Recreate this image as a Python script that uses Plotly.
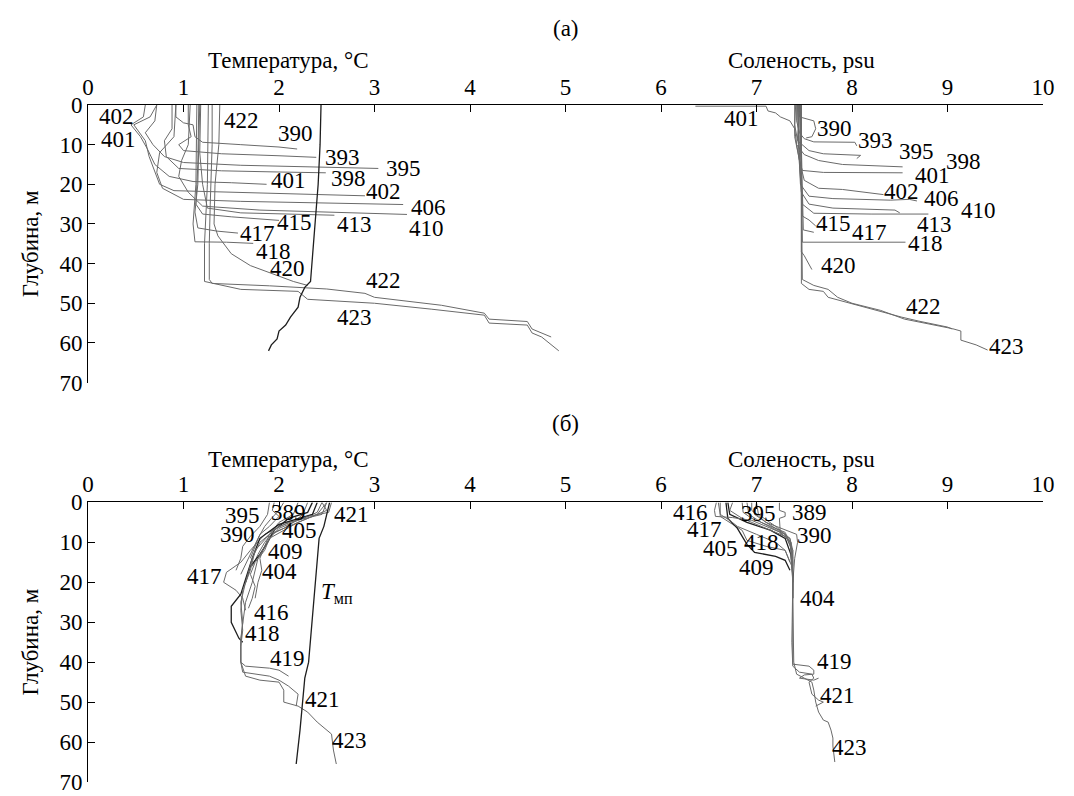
import plotly.graph_objects as go

# ---------------- Panel (а): temperature profiles (T, depth) ----------------
a_T_390 = [(0.92, 0), (0.92, 3), (1.0, 4.5), (1.1, 5), (1.12, 8), (1.2, 9.4), (1.6, 10), (2.0, 10.6), (2.19, 11.1)]
a_T_393 = [(1.05, 0), (1.05, 5), (1.08, 8), (0.95, 10), (1.0, 11.5), (1.4, 12.3), (2.0, 12.8), (2.39, 13.2)]
a_T_395 = [(0.72, 0), (0.7, 4), (0.6, 7), (0.68, 10), (0.8, 13), (1.0, 14.5), (1.6, 15.2), (2.4, 15.7), (3.04, 16)]
a_T_398 = [(0.88, 0), (0.88, 6), (0.8, 9), (0.82, 13), (0.95, 16), (1.4, 16.6), (2.0, 16.9), (2.49, 17.1)]
a_T_401 = [(0.6, 0), (0.58, 3), (0.45, 5), (0.55, 8), (0.62, 11), (0.7, 15), (0.85, 18), (1.1, 19.3), (1.5, 19.6), (1.87, 20)]
a_T_402 = [(0.72, 0), (0.65, 3), (0.48, 5), (0.6, 9), (0.64, 13), (0.7, 17), (0.75, 20), (0.9, 21.6), (1.5, 22), (2.2, 22.3), (2.9, 22.9)]
a_T_406 = [(0.92, 0), (0.9, 8), (0.75, 12), (0.72, 17), (0.78, 21), (1.0, 23.8), (1.6, 24.3), (2.5, 24.7), (3.3, 25.1)]
a_T_410 = [(1.07, 0), (1.05, 10), (0.98, 14), (0.95, 18), (1.05, 22), (1.2, 25.5), (1.8, 26.5), (2.6, 27.1), (3.34, 27.6)]
a_T_413 = [(1.18, 0), (1.17, 12), (1.2, 20), (1.25, 26), (1.6, 27.2), (2.2, 27.5), (2.58, 27.8)]
a_T_415 = [(1.16, 0), (1.15, 15), (1.13, 25), (1.2, 27.5), (1.5, 28.2), (2.0, 29.1)]
a_T_417 = [(1.17, 0), (1.15, 20), (1.12, 27), (1.15, 31), (1.35, 31.8), (1.57, 32.3)]
a_T_418 = [(1.14, 0), (1.13, 20), (1.1, 30), (1.12, 34.5), (1.45, 34.6), (1.73, 34.9)]
a_T_420 = [(1.38, 0), (1.37, 10), (1.33, 20), (1.32, 30), (1.36, 33), (1.5, 37.5), (1.7, 40.5), (1.95, 42.8), (2.15, 44.5), (2.3, 45.5)]
a_T_422 = [(1.3, 0), (1.3, 10), (1.28, 25), (1.27, 35), (1.27, 44), (1.3, 45), (1.9, 45.6), (2.5, 46.4), (2.9, 47.5), (3.0, 48.5), (3.7, 50.5), (4.15, 52.5), (4.2, 54), (4.6, 54.6), (4.65, 56.5), (4.85, 58.5)]
a_T_423 = [(1.26, 0), (1.25, 20), (1.22, 35), (1.22, 44.5), (1.6, 46.5), (2.2, 47), (2.3, 49), (3.0, 50), (3.6, 51.5), (4.15, 53), (4.2, 55), (4.6, 55.5), (4.65, 57.5), (4.75, 58.5), (4.93, 62)]
a_T_mp = [(2.44, 0), (2.43, 10), (2.41, 20), (2.38, 30), (2.35, 40), (2.33, 44.5), (2.27, 46), (2.22, 48.5), (2.2, 51), (2.12, 53.5), (2.07, 55.5), (2.0, 57), (1.98, 59), (1.92, 60.5), (1.89, 62)]

a_T_lab = ["402", "401", "422", "390", "393", "395", "401", "398", "402", "406", "410", "413", "415", "417", "418", "420", "422", "423"]
a_T_lab_x = [0.30, 0.32, 1.61, 2.17, 2.67, 3.30, 2.10, 2.73, 3.09, 3.57, 3.54, 2.79, 2.16, 1.77, 1.94, 2.09, 3.09, 2.79]
a_T_lab_y = [2.9, 8.8, 4.0, 7.2, 13.3, 16.0, 19.0, 18.5, 21.9, 25.9, 31.1, 30.2, 29.7, 32.3, 36.9, 41.2, 44.3, 53.5]

# ---------------- Panel (а): salinity profiles (S, depth) ----------------
a_S_390 = [(7.44, 0), (7.45, 3), (7.6, 4), (7.62, 6), (7.58, 8), (7.52, 8.3)]
a_S_393 = [(7.42, 0), (7.42, 4), (7.45, 7), (7.5, 8.5), (7.6, 9.3), (8.03, 9.4), (8.05, 10.3)]
a_S_395 = [(7.41, 0), (7.4, 5), (7.43, 9), (7.55, 11.5), (7.7, 12.3), (8.0, 12.5), (8.09, 12.7), (8.05, 13.5)]
a_S_398 = [(7.45, 0), (7.44, 6), (7.42, 10), (7.5, 12.5), (7.65, 14), (7.9, 15), (8.53, 15.6)]
a_S_401 = [(6.36, 0.3), (7.1, 0.3), (7.12, 1.5), (7.2, 2), (7.25, 3), (7.35, 4), (7.4, 6), (7.42, 10), (7.45, 14), (7.48, 16.5), (7.7, 17), (8.2, 17.1), (8.53, 17.1)]
a_S_402 = [(7.4, 0), (7.4, 8), (7.45, 14), (7.5, 19), (7.65, 21), (7.9, 21.3), (8.33, 22.6)]
a_S_406 = [(7.43, 0), (7.44, 10), (7.46, 20), (7.55, 23), (7.8, 23.6), (8.4, 24), (8.6, 23.8), (8.68, 24.2)]
a_S_410 = [(7.44, 0), (7.45, 12), (7.47, 22), (7.55, 25), (7.8, 26), (8.45, 26.5), (8.5, 27.2)]
a_S_413 = [(7.43, 0), (7.45, 15), (7.48, 25), (7.6, 27.3), (8.2, 27.5), (8.8, 27.5)]
a_S_415 = [(7.45, 0), (7.47, 20), (7.48, 28), (7.55, 29), (7.62, 30.5)]
a_S_417 = [(7.46, 0), (7.48, 25), (7.49, 31.5), (7.6, 32.1)]
a_S_418 = [(7.46, 0), (7.48, 25), (7.48, 34.6), (8.56, 34.6)]
a_S_420 = [(7.47, 0), (7.47, 30), (7.47, 37), (7.5, 38), (7.55, 40), (7.58, 41.5)]
a_S_422 = [(7.47, 0), (7.47, 30), (7.47, 45), (7.55, 46.5), (7.7, 47), (7.75, 48.5), (7.9, 49.5), (8.05, 50.5), (8.3, 52), (8.52, 53.5), (8.7, 54.5), (9.0, 56), (9.05, 56.5)]
a_S_423 = [(7.46, 0), (7.47, 30), (7.48, 44), (7.6, 45.5), (7.75, 46.5), (7.85, 48.5), (8.0, 50), (8.3, 51.8), (8.55, 54), (9.05, 56.4), (9.14, 57), (9.14, 59.3), (9.3, 60.5), (9.42, 61.8)]

a_S_lab = ["401", "390", "393", "395", "398", "401", "402", "406", "410", "413", "415", "417", "418", "420", "422", "423"]
a_S_lab_x = [6.84, 7.82, 8.25, 8.68, 9.17, 8.84, 8.52, 8.94, 9.32, 8.86, 7.81, 8.18, 8.77, 7.86, 8.75, 9.62]
a_S_lab_y = [3.3, 5.8, 8.9, 11.8, 14.2, 17.7, 21.7, 23.5, 26.5, 30.1, 29.8, 32.1, 34.9, 40.4, 50.7, 61.0]

# ---------------- Panel (б): temperature profiles ----------------
b_T_389 = [(1.95, 0), (1.93, 2), (2.0, 3.5), (1.9, 6), (1.8, 8), (1.75, 11), (1.7, 14)]
b_T_390 = [(1.9, 0), (1.88, 3), (1.8, 6), (1.7, 8.5), (1.62, 11), (1.6, 14), (1.55, 17)]
b_T_395 = [(2.05, 0), (2.0, 2), (1.92, 4), (1.85, 6), (1.78, 9), (1.72, 12), (1.66, 15), (1.6, 18)]
b_T_404 = [(2.2, 0), (2.15, 3), (2.0, 5), (1.9, 8), (1.85, 11), (1.8, 14), (1.82, 17), (1.78, 20), (1.75, 24)]
b_T_405 = [(2.3, 0), (2.25, 3), (2.15, 5), (2.05, 6.5), (1.92, 8), (1.85, 10), (1.78, 13), (1.72, 16)]
b_T_409 = [(2.35, 0), (2.3, 2.5), (2.1, 4), (1.95, 7), (1.88, 10), (1.8, 13), (1.7, 16), (1.65, 20)]
b_T_416 = [(2.45, 0), (2.4, 2.5), (2.2, 4.5), (2.0, 6.5), (1.9, 9), (1.85, 12), (1.75, 15), (1.7, 18), (1.75, 21), (1.72, 24), (1.68, 26.5)]
b_T_417 = [(2.5, 0), (2.45, 3), (2.1, 5), (1.85, 8), (1.7, 12), (1.6, 15), (1.45, 17.5), (1.42, 20), (1.55, 22), (1.62, 24), (1.65, 27)]
b_T_418 = [(2.4, 0), (2.35, 3), (2.0, 5.5), (1.8, 9), (1.72, 14), (1.65, 19), (1.6, 23), (1.5, 26), (1.5, 30), (1.58, 34), (1.62, 35)]
b_T_419 = [(2.45, 0), (2.5, 2), (2.3, 4), (1.9, 8), (1.75, 12), (1.7, 17), (1.62, 22), (1.6, 27), (1.62, 32), (1.6, 36), (1.6, 40), (1.65, 41), (1.9, 41.5), (2.0, 42), (2.1, 43.5)]
b_T_421 = [(2.55, 0), (2.52, 2.5), (2.3, 3.5), (2.0, 6), (1.8, 10), (1.72, 14), (1.65, 20), (1.6, 25), (1.62, 30), (1.6, 35), (1.6, 40), (1.62, 42.5), (1.9, 43.5), (2.0, 44.5), (2.1, 46), (2.2, 48), (2.18, 51)]
b_T_423 = [(2.5, 0), (2.4, 3), (2.2, 5), (1.9, 9), (1.78, 14), (1.72, 20), (1.65, 25), (1.62, 30), (1.6, 34), (1.6, 40), (1.65, 43.5), (1.8, 44.5), (2.0, 45), (2.05, 47), (2.05, 50), (2.2, 51), (2.3, 52.5), (2.4, 55), (2.55, 58), (2.57, 62), (2.6, 65.5)]
b_T_mp = [(2.53, 0), (2.5, 3), (2.47, 6), (2.42, 9), (2.4, 15), (2.38, 20), (2.35, 30), (2.31, 40), (2.27, 44), (2.25, 50), (2.22, 57), (2.18, 65.5)]

b_T_lab = ["395", "389", "421", "390", "405", "409", "404", "417", "416", "418", "419", "421", "423"]
b_T_lab_x = [1.62, 2.10, 2.76, 1.57, 2.21, 2.07, 2.00, 1.22, 1.92, 1.83, 2.09, 2.46, 2.74]
b_T_lab_y = [3.3, 2.5, 3.0, 8.1, 7.1, 12.4, 17.2, 18.6, 27.5, 32.8, 39.0, 49.3, 59.7]
b_T_mp_lab = (2.61, 22.8)

# ---------------- Panel (б): salinity profiles ----------------
b_S_389 = [(7.24, 0), (7.24, 2), (7.3, 2.5), (7.3, 3.5), (7.24, 4), (7.25, 8), (7.35, 9), (7.38, 12), (7.38, 16)]
b_S_390 = [(7.0, 0), (6.98, 3), (7.1, 5), (7.3, 7), (7.42, 8), (7.43, 10), (7.4, 14), (7.38, 20)]
b_S_395 = [(6.85, 0), (6.86, 2.5), (6.95, 4), (7.1, 5.5), (7.3, 7.5), (7.35, 10), (7.38, 14)]
b_S_404 = [(6.7, 0), (6.72, 3), (6.9, 5), (7.15, 7), (7.3, 9), (7.36, 13), (7.38, 18), (7.38, 24)]
b_S_405 = [(6.62, 0), (6.62, 3.5), (6.75, 5.5), (6.85, 7), (6.9, 9.5), (7.1, 11), (7.3, 12), (7.35, 15)]
b_S_409 = [(6.68, 0), (6.7, 4), (6.8, 6.5), (6.9, 10.5), (6.98, 12.5), (7.2, 13.5), (7.3, 14.5), (7.35, 17)]
b_S_416 = [(6.58, 0), (6.56, 2), (6.57, 3.5), (6.75, 3.8), (6.95, 4.5), (7.15, 6.5), (7.3, 8), (7.37, 12), (7.38, 20)]
b_S_417 = [(6.6, 0), (6.62, 3), (6.72, 4.5), (6.8, 6), (7.0, 8), (7.2, 10), (7.3, 12), (7.37, 16)]
b_S_418 = [(6.75, 0), (6.72, 2), (6.85, 4), (7.05, 6), (7.3, 8.5), (7.36, 10), (7.38, 15), (7.38, 22)]
b_S_419 = [(6.9, 0), (6.92, 3), (7.05, 5), (7.25, 7.5), (7.36, 10), (7.38, 20), (7.38, 30), (7.38, 40.5), (7.55, 41), (7.6, 42), (7.6, 43), (7.5, 43.2), (7.45, 44), (7.6, 44.5), (7.65, 44)]
b_S_421 = [(7.0, 0), (7.02, 3), (7.2, 6), (7.35, 9), (7.38, 20), (7.37, 35), (7.38, 41), (7.45, 42.5), (7.58, 43), (7.6, 44), (7.55, 45), (7.58, 48), (7.65, 49.5), (7.7, 50), (7.62, 51)]
b_S_423 = [(6.95, 0), (6.95, 2), (7.1, 5), (7.3, 8), (7.38, 12), (7.38, 25), (7.39, 40), (7.42, 43), (7.5, 44), (7.58, 45), (7.6, 47), (7.62, 50), (7.65, 52.5), (7.7, 54.5), (7.75, 55), (7.78, 57), (7.8, 59), (7.8, 61), (7.82, 65)]

b_S_lab = ["416", "395", "389", "417", "390", "418", "405", "409", "404", "419", "421", "423"]
b_S_lab_x = [6.31, 7.02, 7.55, 6.46, 7.61, 7.05, 6.62, 7.00, 7.64, 7.82, 7.85, 7.97]
b_S_lab_y = [2.5, 2.7, 2.5, 6.8, 8.3, 10.1, 11.6, 16.3, 24.0, 39.9, 48.3, 61.3]

# Tick labels
x_ticks = [0, 1, 2, 3, 4, 5, 6, 7, 8, 9, 10]
y_ticks = [0, 10, 20, 30, 40, 50, 60, 70]

GRAY = "#6a6a6a"
DARK = "#1e1e1e"
FONT = "Liberation Serif"
FS = 23

fig = go.Figure()

def add_profiles(profiles, xa, ya, dark=()):
    for name, prof in profiles:
        xs = [p[0] for p in prof]
        ys = [p[1] for p in prof]
        col = DARK if name in dark else GRAY
        fig.add_trace(go.Scatter(x=xs, y=ys, mode="lines", xaxis=xa, yaxis=ya,
                                 line=dict(color=col, width=1.3 if name in dark else 1),
                                 showlegend=False, hoverinfo="skip"))

a_temp = [("390", a_T_390), ("393", a_T_393), ("395", a_T_395), ("398", a_T_398), ("401", a_T_401),
          ("402", a_T_402), ("406", a_T_406), ("410", a_T_410), ("413", a_T_413), ("415", a_T_415),
          ("417", a_T_417), ("418", a_T_418), ("420", a_T_420), ("422", a_T_422), ("423", a_T_423),
          ("mp", a_T_mp)]
a_sal = [("390", a_S_390), ("393", a_S_393), ("395", a_S_395), ("398", a_S_398), ("401", a_S_401),
         ("402", a_S_402), ("406", a_S_406), ("410", a_S_410), ("413", a_S_413), ("415", a_S_415),
         ("417", a_S_417), ("418", a_S_418), ("420", a_S_420), ("422", a_S_422), ("423", a_S_423)]
b_temp = [("389", b_T_389), ("390", b_T_390), ("395", b_T_395), ("404", b_T_404), ("405", b_T_405),
          ("409", b_T_409), ("416", b_T_416), ("417", b_T_417), ("418", b_T_418), ("419", b_T_419),
          ("421", b_T_421), ("423", b_T_423), ("mp", b_T_mp)]
b_sal = [("389", b_S_389), ("390", b_S_390), ("395", b_S_395), ("404", b_S_404), ("405", b_S_405),
         ("409", b_S_409), ("416", b_S_416), ("417", b_S_417), ("418", b_S_418), ("419", b_S_419),
         ("421", b_S_421), ("423", b_S_423)]

add_profiles(a_temp, "x", "y", dark=("mp",))
add_profiles(a_sal, "x", "y", dark=())
add_profiles(b_temp, "x2", "y2", dark=("mp", "418", "409"))
add_profiles(b_sal, "x2", "y2", dark=("404", "409"))

annots = []
TXT = dict(family=FONT, size=FS, color="black")

def add_labels(labels, xs, ys, xref, yref):
    for t, x, y in zip(labels, xs, ys):
        annots.append(dict(text=t, x=x, y=y, xref=xref, yref=yref, showarrow=False,
                           font=TXT, xanchor="center", yanchor="middle"))

add_labels(a_T_lab, a_T_lab_x, a_T_lab_y, "x", "y")
add_labels(a_S_lab, a_S_lab_x, a_S_lab_y, "x", "y")
add_labels(b_T_lab, b_T_lab_x, b_T_lab_y, "x2", "y2")
add_labels(b_S_lab, b_S_lab_x, b_S_lab_y, "x2", "y2")
annots.append(dict(text="<i>T</i><sub>мп</sub>", x=b_T_mp_lab[0], y=b_T_mp_lab[1], xref="x2", yref="y2",
                   showarrow=False, font=TXT, xanchor="center", yanchor="middle"))

for xr, yref, panel, shift_t, shift_p in (("x", "y domain", "(а)", 45, 77), ("x2", "y2 domain", "(б)", 43, 79)):
    annots.append(dict(text="Температура, °C", x=2.1, y=1, xref=xr, yref=yref, yshift=shift_t,
                       showarrow=False, font=TXT, xanchor="center", yanchor="middle"))
    annots.append(dict(text="Соленость, psu", x=7.47, y=1, xref=xr, yref=yref, yshift=shift_t,
                       showarrow=False, font=TXT, xanchor="center", yanchor="middle"))
    annots.append(dict(text=panel, x=5.0, y=1, xref=xr, yref=yref, yshift=shift_p,
                       showarrow=False, font=TXT, xanchor="center", yanchor="middle"))

xax = dict(range=[0, 10], side="top", tickmode="array", tickvals=x_ticks, ticktext=[str(v) for v in x_ticks],
           ticks="inside", ticklen=7, tickcolor="black", showline=True, linecolor="black", linewidth=1,
           showgrid=False, zeroline=False, tickfont=TXT)
yax = dict(range=[70, 0], tickmode="array", tickvals=y_ticks, ticktext=[str(v) for v in y_ticks],
           ticks="inside", ticklen=7, tickcolor="black", showline=True, linecolor="black", linewidth=1,
           showgrid=False, zeroline=False, tickfont=TXT,
           title=dict(text="Глубина, м", font=TXT, standoff=14))

fig.update_layout(
    width=1074, height=796, autosize=False,
    margin=dict(l=80, r=39, t=97, b=9),
    paper_bgcolor="white", plot_bgcolor="white",
    xaxis=dict(**xax, anchor="y"),
    yaxis=dict(**yax, domain=[0.59, 1.0], anchor="x"),
    xaxis2=dict(**xax, anchor="y2"),
    yaxis2=dict(**yax, domain=[0.0, 0.413], anchor="x2"),
    annotations=annots,
    font=TXT,
)

fig.write_html("out.html")
